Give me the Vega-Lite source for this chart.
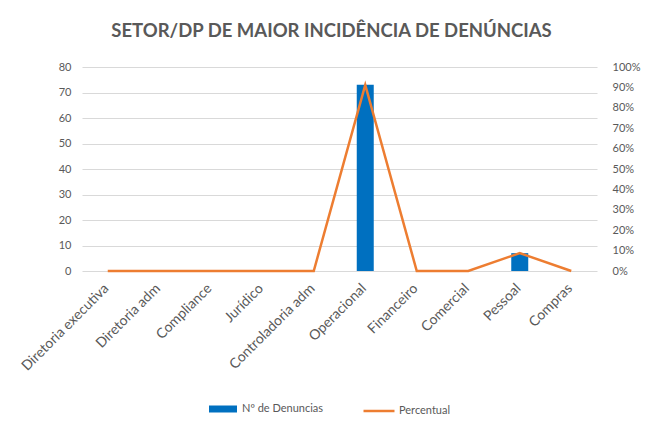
{
  "$schema": "https://vega.github.io/schema/vega-lite/v6.json",
  "width": 515,
  "height": 204,
  "autosize": {"type": "none"},
  "padding": {"left": 82, "right": 48, "top": 67, "bottom": 155},
  "background": "white",
  "title": {
    "text": "SETOR/DP DE MAIOR INCIDÊNCIA DE DENÚNCIAS",
    "font": "Lato",
    "fontSize": 18.5,
    "fontWeight": "bold",
    "color": "#595959",
    "anchor": "middle",
    "dx": -8,
    "offset": 21
  },
  "config": {
    "view": {"stroke": null},
    "font": "Lato",
    "axis": {"labelFont": "Lato", "labelColor": "#595959", "labelFontSize": 11, "domain": false, "ticks": false, "titleColor": "#595959"},
    "legend": {"labelFont": "Lato", "labelColor": "#595959", "labelFontSize": 11}
  },
  "data": {
    "values": [
      {"categoria": "Diretoria executiva", "denuncias": 0, "percentual": 0},
      {"categoria": "Diretoria adm", "denuncias": 0, "percentual": 0},
      {"categoria": "Compliance", "denuncias": 0, "percentual": 0},
      {"categoria": "Jurídico", "denuncias": 0, "percentual": 0},
      {"categoria": "Controladoria adm", "denuncias": 0, "percentual": 0},
      {"categoria": "Operacional", "denuncias": 73, "percentual": 0.9125},
      {"categoria": "Financeiro", "denuncias": 0, "percentual": 0},
      {"categoria": "Comercial", "denuncias": 0, "percentual": 0},
      {"categoria": "Pessoal", "denuncias": 7, "percentual": 0.0875},
      {"categoria": "Compras", "denuncias": 0, "percentual": 0}
    ]
  },
  "encoding": {
    "x": {
      "field": "categoria",
      "type": "nominal",
      "sort": null,
      "title": null,
      "scale": {"paddingInner": 0.67, "paddingOuter": 0.335},
      "axis": {"labelAngle": -45, "labelAlign": "right", "labelBaseline": "top", "labelPadding": 10, "labelOffset": -6, "labelFontSize": 14, "grid": false}
    }
  },
  "layer": [
    {
      "mark": {"type": "bar", "fill": "#0070c0"},
      "encoding": {
        "y": {
          "field": "denuncias",
          "type": "quantitative",
          "title": null,
          "scale": {"domain": [0, 80]},
          "axis": {"values": [0, 10, 20, 30, 40, 50, 60, 70, 80], "grid": true, "gridColor": "#d9d9d9", "labelPadding": 11}
        },
        "fill": {
          "datum": "Nº de Denuncias",
          "scale": {"domain": ["Nº de Denuncias"], "range": ["#0070c0"]},
          "legend": {"title": null, "orient": "none", "legendX": 126, "legendY": 327, "symbolType": "M-1,-0.25H1V0.25H-1Z", "symbolSize": 784, "symbolOpacity": 1, "labelOffset": 4}
        }
      }
    },
    {
      "mark": {"type": "line", "strokeWidth": 2.5, "color": "#ed7d31"},
      "encoding": {
        "y": {
          "field": "percentual",
          "type": "quantitative",
          "title": null,
          "scale": {"domain": [0, 1]},
          "axis": {"orient": "right", "format": ".0%", "values": [0, 0.1, 0.2, 0.3, 0.4, 0.5, 0.6, 0.7, 0.8, 0.9, 1], "grid": false, "labelPadding": 15}
        },
        "stroke": {
          "datum": "Percentual",
          "scale": {"domain": ["Percentual"], "range": ["#ed7d31"]},
          "legend": {"title": null, "orient": "none", "legendX": 280, "legendY": 327, "symbolType": "stroke", "symbolStrokeWidth": 2.5, "symbolSize": 961, "labelOffset": 3}
        }
      }
    }
  ],
  "resolve": {"scale": {"y": "independent", "fill": "independent", "stroke": "independent"}}
}
